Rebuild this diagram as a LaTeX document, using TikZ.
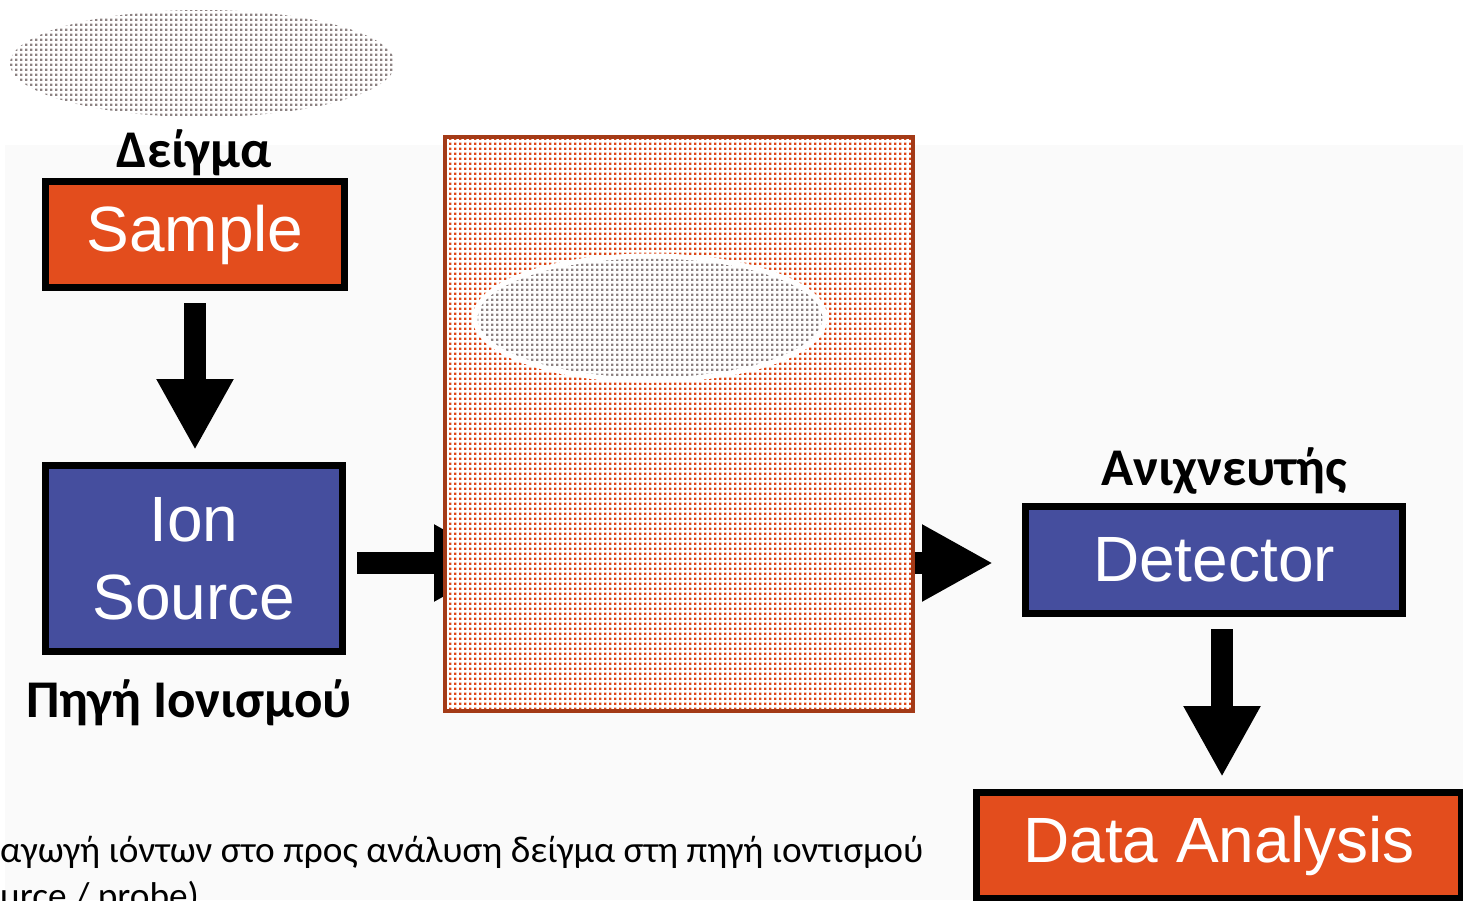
\documentclass[tikz,border=0pt]{standalone}
\usepackage{fontspec}
\setmainfont{Liberation Sans}
\newfontfamily\labelfont{Carlito}
\usetikzlibrary{arrows.meta,positioning,shapes.geometric,patterns.meta,backgrounds}

\definecolor{sampleorange}{RGB}{227,77,29}
\definecolor{sourceblue}{RGB}{69,78,158}
\definecolor{framebrown}{RGB}{163,58,23}
\definecolor{dotorange}{RGB}{222,72,24}
\definecolor{dotgray}{RGB}{140,130,130}
\definecolor{pagegray}{RGB}{250,250,250}

\tikzdeclarepattern{
  name=dotgrid,
  type=uncolored,
  bounding box={(0pt,0pt) and (5.3pt,5.3pt)},
  tile size={(5.3pt,5.3pt)},
  code={\fill (0pt,0pt) rectangle (2.8pt,2.8pt);}
}

\tikzset{
  unitbox/.style={draw=black, line width=7pt, text=white, align=center, inner sep=0pt,
    font=\fontsize{64}{78}\selectfont},
  greeklabel/.style={inner sep=0pt, font=\labelfont\bfseries\fontsize{53}{63}\selectfont},
  introtext/.style={inner sep=0pt, font=\labelfont\fontsize{37.3}{49}\selectfont},
  bigarrow/.style={line width=22pt, -{Triangle[width=72pt,length=71pt]}},
  dotfill/.style={preaction={fill=white}, pattern=dotgrid, pattern color=#1},
}

\begin{document}
\begin{tikzpicture}[x=1pt,y=-1pt]
  \useasboundingbox (0,0) rectangle (1463,900);
  \clip (0,0) rectangle (1463,900);

  % specimen blob top left
  \node[ellipse, inner sep=0pt, minimum width=385pt, minimum height=107pt, dotfill=dotgray] (specimen) at (202.5,63.5) {};

  % sample box
  \node[unitbox, fill=sampleorange, minimum width=299pt, minimum height=106pt] (sample) at (195,234.5) {Sample};
  \node[greeklabel, anchor=base] (deigma) at ([xshift=-1pt,yshift=11pt]sample.north) {Δείγμα};

  % ion source box
  \node[unitbox, fill=sourceblue, minimum width=297pt, minimum height=186pt] (ion) at (194,558.5) {Ion\\Source};
  \node[greeklabel, anchor=base] (pigi) at ([xshift=-5pt,yshift=-62pt]ion.south) {Πηγή Ιονισμού};

  % analyzer, covered
  \node[draw=framebrown, line width=4pt, minimum width=468pt, minimum height=574pt, dotfill=dotorange] (analyzer) at (679,424) {};
  \node[ellipse, draw=white, line width=5pt, inner sep=0pt, minimum width=350pt, minimum height=124pt, dotfill=dotgray] (core) at (650,318) {};

  % detector box
  \node[unitbox, fill=sourceblue, minimum width=377pt, minimum height=107pt] (detector) at (1214,560) {Detector};
  \node[greeklabel, anchor=base] (anixneftis) at ([xshift=10pt,yshift=18pt]detector.north) {Ανιχνευτής};

  % data analysis box
  \node[unitbox, fill=sampleorange, minimum width=485pt, minimum height=106pt] (data) at (1219,845.5) {Data Analysis};

  % arrows down
  \draw[bigarrow] ([yshift=-12pt]sample.south) -- ([yshift=12pt]sample.south |- ion.north);
  \draw[bigarrow] ([xshift=8pt,yshift=-12pt]detector.south) -- ([xshift=8pt,yshift=12pt]detector.south |- data.north);

  % arrows through the analyzer, under it
  \begin{scope}[on background layer]
    \fill[pagegray] (5,145) rectangle (1463,900);
    \coordinate (beam) at ([xshift=11pt,yshift=-4.5pt]ion.east);
    \draw[bigarrow] (beam) -- ([xshift=62pt]analyzer.west |- beam);
    \draw[bigarrow] ([xshift=-60pt]analyzer.east |- beam) -- ([xshift=-29pt]detector.west |- beam);
  \end{scope}

  % caption, cut at the edges
  \node[introtext, anchor=base west] (intro) at (0,862) {αγωγή ιόντων στο προς ανάλυση δείγμα στη πηγή ιοντισμού};
  \node[introtext, anchor=base west] (introtail) at ([yshift=-46pt]intro.base west) {urce / probe)};
\end{tikzpicture}
\end{document}
